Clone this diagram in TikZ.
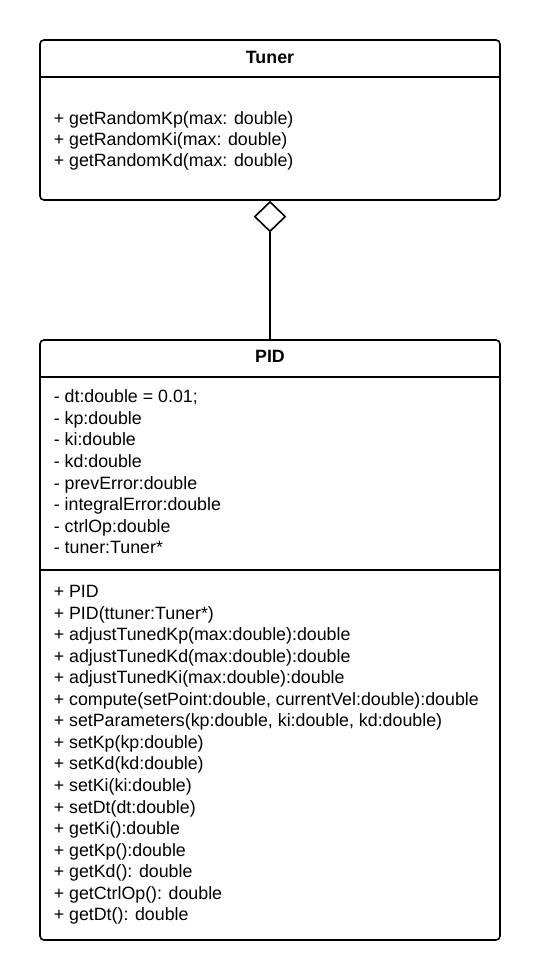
\documentclass[tikz,border=0pt]{standalone}
\usepackage{fontspec}
\setmainfont{Liberation Sans}
\usetikzlibrary{positioning, shapes.geometric}

\begin{document}
\begin{tikzpicture}[x=1pt, y=-1pt, line width=1.6pt,
    classbox/.style={draw, rounded corners=4pt, minimum width=460pt, inner sep=0pt},
    classname/.style={font=\bfseries\fontsize{17.8}{21.6}\selectfont, anchor=base, inner sep=0pt},
    member/.style={font=\fontsize{17.8}{21.6}\selectfont, anchor=base west, inner sep=0pt},
    aggr/.style={diamond, draw, fill=white, minimum width=31pt, minimum height=30pt, inner sep=0pt}]
    \useasboundingbox (0,0) rectangle (540,980);

    % Tuner class
    \node[classbox, minimum height=160pt] (tuner) at (270,120) {};
    \node[classname] (tunername) at (270,63.3) {Tuner};
    \draw (tuner.west |- 0,77) -- (tuner.east |- 0,77);
    \foreach \txt [count=\i] in {+ getRandomKp(max: double), + getRandomKi(max: double), + getRandomKd(max: double)}
        \node[member] (tunerop\i) at ({53}, {102.8+21.2*\i}) {\txt};

    % PID class
    \node[classbox, minimum height=600pt] (pid) at (270,640) {};
    \node[classname] (pidname) at (270,362.7) {PID};
    \draw (pid.west |- 0,377) -- (pid.east |- 0,377);
    \draw (pid.west |- 0,570) -- (pid.east |- 0,570);
    \foreach \txt [count=\i] in {- dt:double = 0.01;, - kp:double, - ki:double, - kd:double,
            - prevError:double, - integralError:double, - ctrlOp:double, - tuner:Tuner*}
        \node[member] (pidattr\i) at ({53}, {381.1+21.6*\i}) {\txt};
    \foreach \txt [count=\i] in {+ PID, + PID(ttuner:Tuner*), + adjustTunedKp(max:double):double,
            + adjustTunedKd(max:double):double, + adjustTunedKi(max:double):double,
            {+ compute(setPoint:double, currentVel:double):double},
            {+ setParameters(kp:double, ki:double, kd:double)},
            + setKp(kp:double), + setKd(kd:double), + setKi(ki:double), + setDt(dt:double),
            + getKi():double, + getKp():double, + getKd(): double, + getCtrlOp(): double,
            + getDt(): double}
        \node[member] (pidop\i) at ({53}, {576+21.55*\i}) {\txt};

    % aggregation
    \node[aggr, anchor=north] (agg) at (tuner.south) {};
    \draw (agg.south) -- (pid.north);
\end{tikzpicture}
\end{document}
